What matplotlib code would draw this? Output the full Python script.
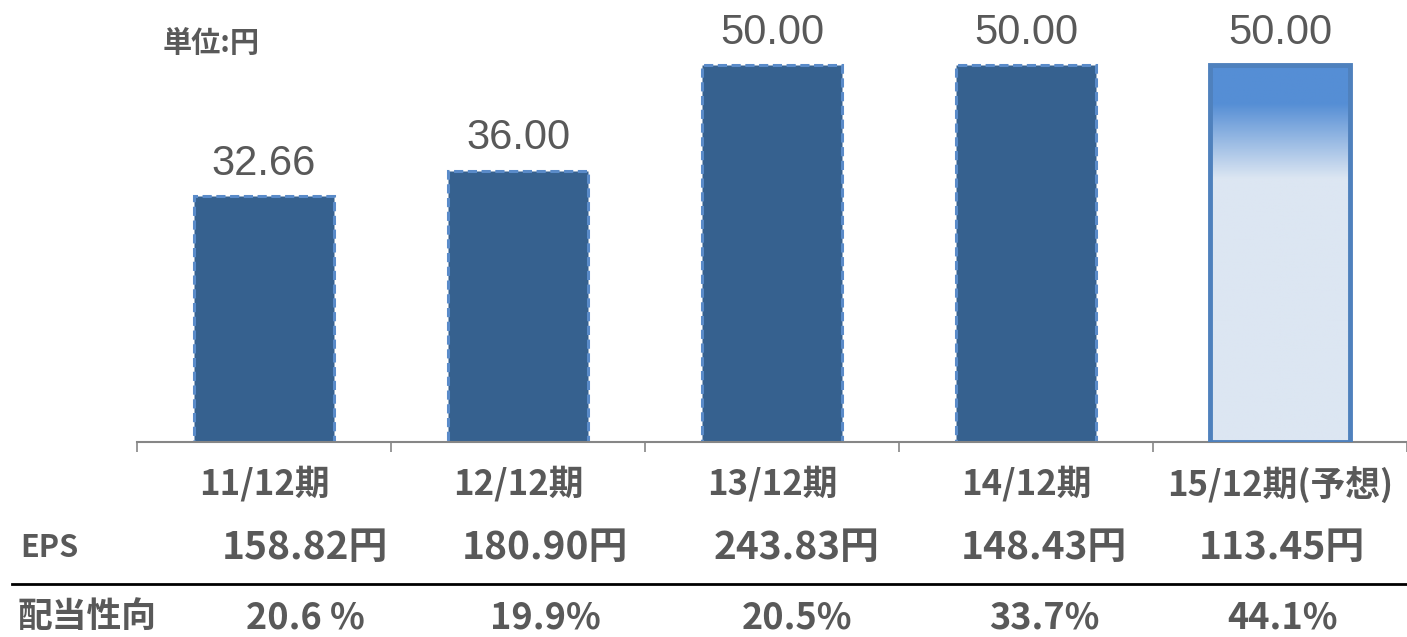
import numpy as np
import matplotlib
matplotlib.use("Agg")
import matplotlib.pyplot as plt
from matplotlib.colors import LinearSegmentedColormap

plt.rcParams['font.family'] = ['Noto Sans CJK JP', 'DejaVu Sans']

# data
categories = ['11/12期', '12/12期', '13/12期', '14/12期', '15/12期(予想)']
dividends = [32.66, 36.00, 50.00, 50.00, 50.00]
eps_labels = ['158.82円', '180.90円', '243.83円', '148.43円', '113.45円']
payout_labels = ['20.6 %', '19.9%', '20.5%', '33.7%', '44.1%']
forecast = [False, False, False, False, True]

W, H = 1407, 637
fig = plt.figure(figsize=(W / 100, H / 100), dpi=100)
ax = fig.add_axes([137 / W, (H - 442) / H, 1270 / W, 442 / H])

x = np.arange(len(categories))
bar_w = 0.555
text_gray = '#595959'

for xi, val, fc in zip(x, dividends, forecast):
    if not fc:
        ax.bar(xi, val, width=bar_w, color='#36618f', edgecolor='#5a8bc9',
               linewidth=2.2, linestyle=(0, (3, 1.5)), zorder=2)
    else:
        # gradient fill, clipped to the bar rectangle
        bar = ax.bar(xi, val, width=bar_w, color='none', edgecolor='#4f81bd',
                     linewidth=3.5, zorder=3)[0]
        cmap = LinearSegmentedColormap.from_list(
            'fc', [(0.0, '#dce6f2'), (0.7, '#dce6f2'), (0.9, '#558ed5'), (1.0, '#558ed5')])
        grad = np.linspace(0, 1, 256).reshape(-1, 1)
        im = ax.imshow(grad, cmap=cmap, aspect='auto', origin='lower',
                       extent=(xi - bar_w / 2, xi + bar_w / 2, 0, val), zorder=2)
        im.set_clip_path(bar)
    ax.text(xi, val + 1.6, f'{val:.2f}', ha='center', va='bottom',
            fontsize=30, color=text_gray, family=['Liberation Sans', 'DejaVu Sans'])

ax.set_xlim(-0.5, len(categories) - 0.5)
ax.set_ylim(0, 442 / 7.54)
for s in ['top', 'right', 'left']:
    ax.spines[s].set_visible(False)
ax.spines['bottom'].set_color('#868686')
ax.spines['bottom'].set_linewidth(1.5)
ax.set_yticks([])

ax.set_xticks(x)
ax.set_xticklabels(categories, fontsize=25, fontweight='bold', color=text_gray)
ax.tick_params(axis='x', which='major', length=0, pad=17)
ax.set_xticks(np.arange(len(categories) + 1) - 0.5, minor=True)
ax.tick_params(axis='x', which='minor', length=7, width=1.2, color='#868686', direction='out')

# unit label
fig.text(163 / W, 1 - 43 / H, '単位:円', fontsize=21, fontweight='bold',
         color=text_gray, va='center', ha='left')

# table below the chart
row_x = [305, 545, 797, 1044, 1282]
fig.text(20 / W, 1 - 548 / H, 'EPS', fontsize=22, fontweight='bold',
         color=text_gray, va='center', ha='left')
fig.text(18 / W, 1 - 616 / H, '配当性向', fontsize=25, fontweight='bold',
         color=text_gray, va='center', ha='left')
for xp, e, p in zip(row_x, eps_labels, payout_labels):
    fig.text(xp / W, 1 - 548 / H, e, fontsize=28, fontweight='bold',
             color=text_gray, va='center', ha='center')
    fig.text(xp / W, 1 - 618 / H, p, fontsize=26, fontweight='bold',
             color=text_gray, va='center', ha='center')

fig.add_artist(plt.Line2D([12 / W, 1], [1 - 584 / H, 1 - 584 / H],
                          color='black', linewidth=2, transform=fig.transFigure))

fig.savefig('out.png', dpi=100)
